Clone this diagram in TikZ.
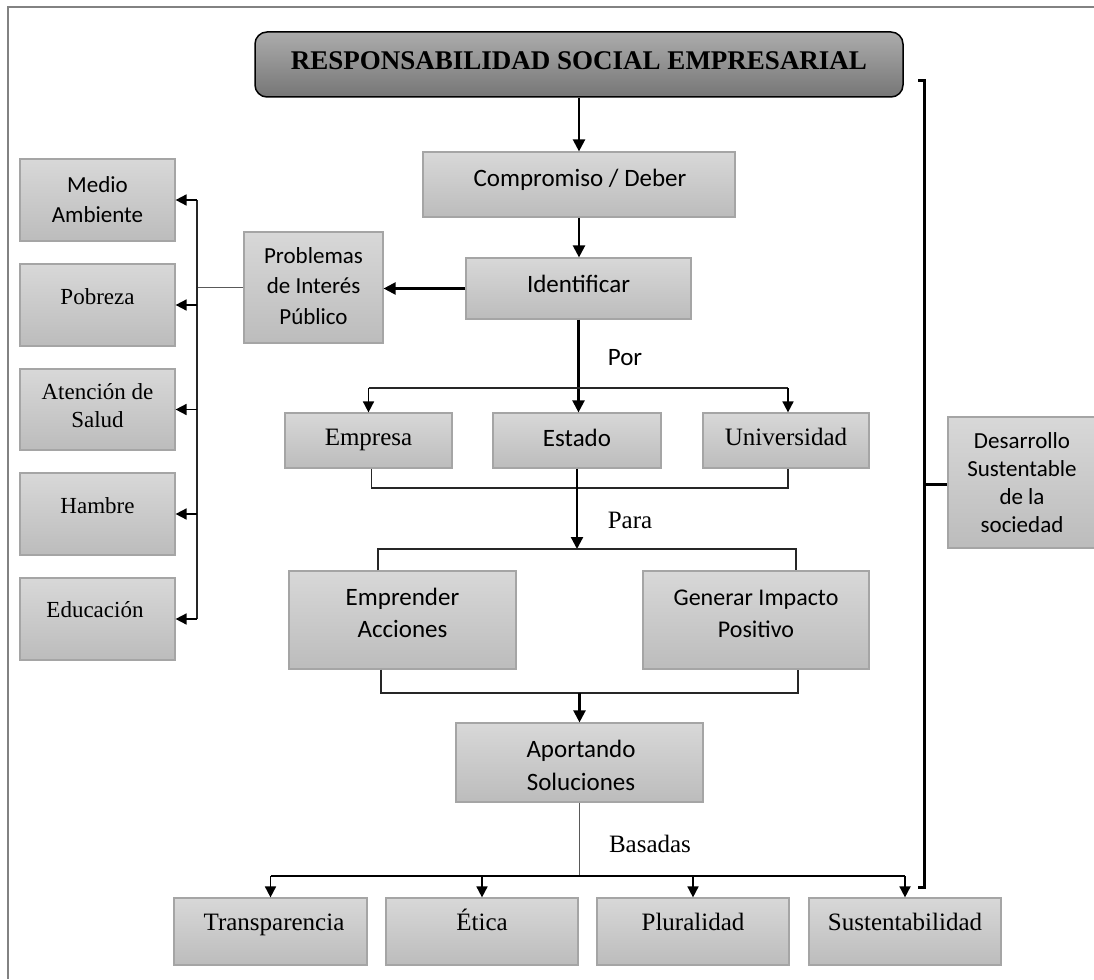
\documentclass[tikz,border=0pt]{standalone}
\usepackage{fontspec}
\setmainfont{Liberation Serif}
\newfontfamily\calfont{Carlito}
\newfontfamily\tnrfont{Liberation Serif}
\usetikzlibrary{arrows.meta,fit}
\definecolor{boxtop}{RGB}{216,216,216}
\definecolor{boxbot}{RGB}{188,188,188}
\definecolor{boxline}{RGB}{165,165,165}
\definecolor{ttop}{RGB}{172,172,172}
\definecolor{tbot}{RGB}{118,118,118}
\definecolor{framecol}{RGB}{130,130,130}
\tikzset{
  gbox/.style={draw=boxline, line width=1.2pt, top color=boxtop, bottom color=boxbot, inner sep=0pt},
  tbox/.style={draw=black, line width=1.5pt, rounded corners=12pt, top color=ttop, bottom color=tbot, inner sep=0pt},
  cal/.style={font=\calfont\fontsize{25}{31}\selectfont, align=center, inner sep=0pt, anchor=base},
  calS/.style={font=\calfont\fontsize{23}{30}\selectfont, align=center, inner sep=0pt, anchor=base},
  tnr/.style={font=\tnrfont\fontsize{25}{30}\selectfont, align=center, inner sep=0pt, anchor=base},
  tnrS/.style={font=\tnrfont\fontsize{23}{28}\selectfont, align=center, inner sep=0pt, anchor=base},
  tarr/.style={line width=2.3pt, -{Triangle[length=12pt,width=12pt]}},
  marr/.style={line width=1.7pt, -{Triangle[length=11pt,width=11pt]}},
  tline/.style={line width=1.3pt, draw=black!85},
  gline/.style={line width=1.2pt, draw=black!65},
  brk/.style={line width=3pt, line join=miter},
}
\begin{document}
\begin{tikzpicture}[x=1pt,y=-1pt]
\useasboundingbox (0,0) rectangle (1094,979);
% frame
\draw[framecol, line width=1.5pt] (8,979) -- (8,7) -- (1094,7);

% boxes
\node[tbox, fit={(255,32) (903,97)}] (title) {};
\node[gbox, fit={(423,152) (735,217)}] (comp) {};
\node[gbox, fit={(466,258) (691,319)}] (ident) {};
\node[gbox, fit={(244,232) (383,343)}] (prob) {};
\node[gbox, fit={(20,159) (175,241)}] (medio) {};
\node[gbox, fit={(20,264) (175,346)}] (pob) {};
\node[gbox, fit={(20,369) (175,450)}] (ate) {};
\node[gbox, fit={(20,473) (175,555)}] (ham) {};
\node[gbox, fit={(20,578) (175,660)}] (edu) {};
\node[gbox, fit={(285,413) (452,468)}] (emp) {};
\node[gbox, fit={(493,413) (661,468)}] (est) {};
\node[gbox, fit={(703,413) (869,468)}] (uni) {};
\node[gbox, fit={(289,571) (516,669)}] (empr) {};
\node[gbox, fit={(643,571) (869,669)}] (gen) {};
\node[gbox, fit={(456,723) (703,802)}] (apo) {};
\node[gbox, fit={(948,417) (1097,548)}] (des) {};
\node[gbox, fit={(174,898) (367,965)}] (tra) {};
\node[gbox, fit={(386,898) (578,965)}] (eti) {};
\node[gbox, fit={(597,898) (789,965)}] (plu) {};
\node[gbox, fit={(809,898) (1001,965)}] (sus) {};

% texts (anchored at the baseline of the last line)
\node[font=\tnrfont\bfseries\fontsize{27}{32}\selectfont, inner sep=0pt, anchor=base] (titleT) at (579,70) {RESPONSABILIDAD SOCIAL EMPRESARIAL};
\node[cal] (compT) at (580,186) {Compromiso / Deber};
\node[cal] (identT) at (578.5,292) {Identificar};
\node[calS, font=\calfont\fontsize{23}{30.5}\selectfont] (probT) at (313.5,324) {Problemas\\de Interés\\Público};
\node[calS] (medioT) at (97.5,222) {Medio\\Ambiente};
\node[tnrS] (pobT) at (97.5,304) {Pobreza};
\node[tnrS] (ateT) at (97.5,427) {Atención de\\Salud};
\node[tnrS] (hamT) at (97.5,513) {Hambre};
\node[tnrS] (eduT) at (95,617) {Educación};
\node[tnr] (empT) at (368.5,445) {Empresa};
\node[cal] (estT) at (577,446) {Estado};
\node[tnr] (uniT) at (786,445) {Universidad};
\node[cal, font=\calfont\fontsize{25}{32}\selectfont] (emprT) at (402.5,637) {Emprender\\Acciones};
\node[cal, font=\calfont\fontsize{24}{32}\selectfont] (genT) at (756,637) {Generar Impacto\\Positivo};
\node[cal, font=\calfont\fontsize{25}{33}\selectfont] (apoT) at (581,790) {Aportando\\Soluciones};
\node[calS, font=\calfont\fontsize{23}{28}\selectfont] (desT) at (1022,532) {Desarrollo\\Sustentable\\de la\\sociedad};
\node[tnr] (traT) at (274,930) {Transparencia};
\node[tnr] (etiT) at (482,930) {Ética};
\node[tnr] (pluT) at (693,930) {Pluralidad};
\node[tnr] (susT) at (905,930) {Sustentabilidad};
\node[cal] (porT) at (625,365) {Por};
\node[tnr] (paraT) at (630,528) {Para};
\node[tnr] (basT) at (650,852) {Basadas};

% connectors
\draw[tarr] (title.south) -- (comp.north);
\draw[tarr] (comp.south) -- (comp.south |- ident.north);
\draw[tarr] (ident.west) -- (ident.west -| prob.east);

\coordinate (lv) at (197,287);
\draw[gline] (prob.west) -- (prob.west -| lv);
\draw[tline] (medio.east -| lv) -- (edu.east -| lv);
\foreach \b in {medio,pob,ate,ham,edu}
  \draw[marr] (\b.east -| lv) -- (\b.east);

\coordinate (por) at (578,388);
\draw[tarr] (ident.south) -- (ident.south |- est.north);
\draw[tline] (emp.north |- por) -- ([xshift=2pt]uni.north |- por);
\draw[marr] (emp.north |- por) -- (emp.north);
\draw[marr] ([xshift=2pt]uni.north |- por) -- ([xshift=2pt]uni.north);

\coordinate (eu) at (578,488);
\draw[tline] ([xshift=3pt]emp.south) -- ([xshift=3pt]emp.south |- eu) -- ([xshift=2pt]uni.south |- eu) -- ([xshift=2pt]uni.south);

\coordinate (para) at (578,549);
\draw[tarr] (est.south) -- (est.south |- para);
\coordinate (paL) at (378,549);
\coordinate (paR) at (796,549);
\draw[tline] (paL |- empr.north) -- (paL) -- (paR) -- (paR |- gen.north);

\coordinate (acL) at (381,693);
\coordinate (acR) at (798,693);
\draw[tline] (acL |- empr.south) -- (acL) -- (acR) -- (acR |- gen.south);
\draw[tarr] (apo.north |- acL) -- (apo.north);

\coordinate (bas) at (580,876);
\draw[gline] (apo.south) -- (apo.south |- bas);
\draw[line width=1.8pt] (tra.north |- bas) -- (sus.north |- bas);
\foreach \b in {tra,eti,plu,sus}
  \draw[marr] (\b.north |- bas) -- (\b.north);

% right bracket
\coordinate (bT) at (924,81);
\coordinate (bB) at (924,887);
\coordinate (bM) at (924,484);
\draw[brk] ([xshift=-6pt]bT) -- (bT) -- (bB) -- ([xshift=-6pt]bB);
\draw[brk] (bM) -- (bM -| des.west);
\end{tikzpicture}
\end{document}
